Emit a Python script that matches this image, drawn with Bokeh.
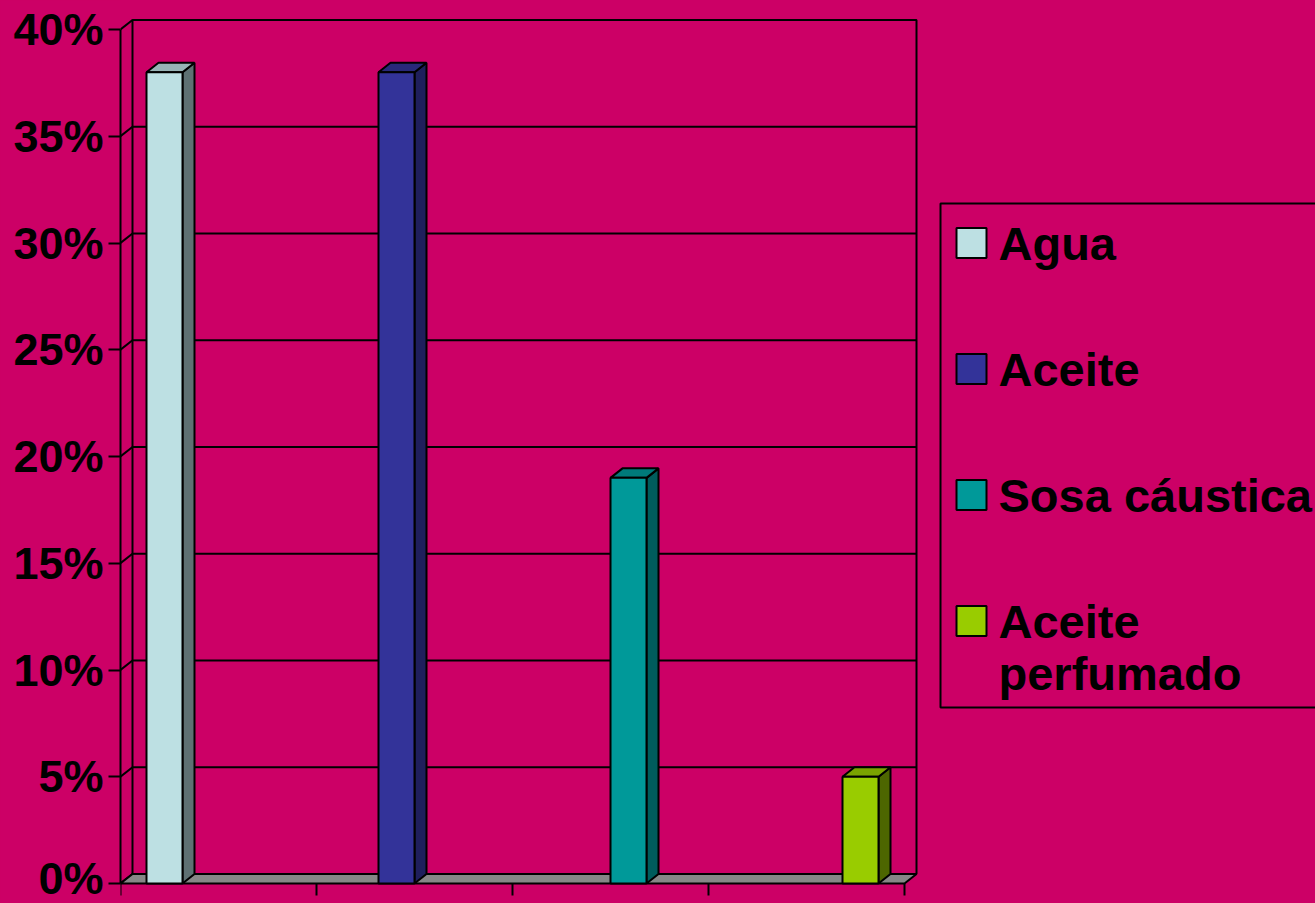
from bokeh.plotting import figure
from bokeh.models import Range1d, FixedTicker, NumeralTickFormatter, ColumnDataSource
from bokeh.embed import file_html
from bokeh.resources import INLINE
from bokeh.core.properties import value

# ---------------- data ----------------
categories = ["Agua", "Aceite", "Sosa cáustica", "Aceite perfumado"]
values = [0.38, 0.38, 0.19, 0.05]
legend_labels = ["Agua", "Aceite", "Sosa cáustica", "Aceite\nperfumado"]
front_colors = ["#BDE0E3", "#333399", "#009999", "#99CC00"]
top_colors = ["#98B4B6", "#29297A", "#007A7A", "#7AA300"]
side_colors = ["#5E7173", "#1F1F5C", "#005C5C", "#4D6600"]
y_ticks = [0.0, 0.05, 0.10, 0.15, 0.20, 0.25, 0.30, 0.35, 0.40]
x_slot_ticks = [0, 1, 2, 3, 4]

# ---------------- layout constants ----------------
BG = "#CC0066"
W, H = 1315, 903
LEFT = 120             # frame left (px)
ZERO_Y = 883           # pixel row of y = 0
PX_Y = 2135.0          # pixels per unit of y
SLOT = 196.0           # pixels per x slot
AXIS_W = 4 * SLOT      # front floor width
DX = 12.0              # depth offset (px, x)
DY = 9.5 / PX_Y        # depth offset (y units)
BAR_W = 36.0
BAR_START = 26.0
BAR_STEP = 232.0
YMAX = y_ticks[-1]
LW = 2

p = figure(width=W, height=H,
           x_range=Range1d(0, W - LEFT),
           y_range=Range1d(-(H - ZERO_Y) / PX_Y, ZERO_Y / PX_Y),
           x_axis_location=None, y_axis_location="left",
           output_backend="svg", toolbar_location=None, tools="",
           min_border_left=LEFT, min_border_right=0,
           min_border_top=0, min_border_bottom=0)
p.background_fill_color = BG
p.border_fill_color = BG
p.outline_line_color = None
p.xgrid.visible = False
p.ygrid.visible = False

# back wall
p.quad(left=DX, right=AXIS_W + DX, bottom=DY, top=YMAX + DY,
       fill_color=BG, line_color="black", line_width=LW)
# gridlines on back wall
p.segment(x0=[DX] * len(y_ticks), y0=[t + DY for t in y_ticks],
          x1=[AXIS_W + DX] * len(y_ticks), y1=[t + DY for t in y_ticks],
          line_color="black", line_width=LW)
# side wall diagonals
p.segment(x0=[0] * len(y_ticks), y0=y_ticks,
          x1=[DX] * len(y_ticks), y1=[t + DY for t in y_ticks],
          line_color="black", line_width=LW)
# floor
p.patch(x=[0, AXIS_W, AXIS_W + DX, DX], y=[0, 0, DY, DY],
        fill_color="#878787", line_color="black", line_width=LW)
# x tick marks
p.segment(x0=[t * SLOT for t in x_slot_ticks], y0=[0] * len(x_slot_ticks),
          x1=[t * SLOT for t in x_slot_ticks], y1=[-12 / PX_Y] * len(x_slot_ticks),
          line_color="black", line_width=LW)

# 3D bars
side_xs, side_ys, top_xs, top_ys = [], [], [], []
lefts, rights = [], []
for i, v in enumerate(values):
    x0 = BAR_START + i * BAR_STEP
    x1 = x0 + BAR_W
    lefts.append(x0)
    rights.append(x1)
    side_xs.append([x1, x1 + DX, x1 + DX, x1])
    side_ys.append([0, DY, v + DY, v])
    top_xs.append([x0, x0 + DX, x1 + DX, x1])
    top_ys.append([v, v + DY, v + DY, v])

p.patches(xs="xs", ys="ys", fill_color="c", line_color="black", line_width=LW,
          source=ColumnDataSource(dict(xs=side_xs, ys=side_ys, c=side_colors)))
p.patches(xs="xs", ys="ys", fill_color="c", line_color="black", line_width=LW,
          source=ColumnDataSource(dict(xs=top_xs, ys=top_ys, c=top_colors)))
p.quad(left="l", right="r", bottom=0, top="v", fill_color="c", line_color="black",
       line_width=LW,
       source=ColumnDataSource(dict(l=lefts, r=rights, v=values, c=front_colors)))

# y axis
ax = p.yaxis[0]
ax.ticker = FixedTicker(ticks=y_ticks)
ax.formatter = NumeralTickFormatter(format="0%")
ax.bounds = (0, YMAX)
ax.axis_line_color = "black"
ax.axis_line_width = LW
ax.major_tick_line_color = "black"
ax.major_tick_line_width = LW
ax.major_tick_out = 12
ax.major_tick_in = 0
ax.minor_tick_line_color = None
ax.major_label_standoff = 5
ax.major_label_text_font = "Liberation Sans"
ax.major_label_text_font_style = "bold"
ax.major_label_text_font_size = "45px"
ax.major_label_text_color = "black"

# legend (drawn manually, pixel layout converted to data units)
def ypix(yp):
    return (ZERO_Y - yp) / PX_Y

def xpix(xp):
    return xp - LEFT

p.quad(left=xpix(940), right=xpix(1340), bottom=ypix(707), top=ypix(203),
       fill_color=None, line_color="black", line_width=LW)
sw_l, sw_r, sw_b, sw_t = [], [], [], []
tx, ty, tt = [], [], []
for i, lab in enumerate(legend_labels):
    c = 242.5 + 126 * i
    sw_l.append(xpix(956))
    sw_r.append(xpix(986))
    sw_b.append(ypix(c + 15))
    sw_t.append(ypix(c - 15))
    for j, line in enumerate(lab.split("\n")):
        tx.append(xpix(998))
        ty.append(ypix(243 + 126 * i + 52 * j))
        tt.append(line)
p.quad(left=sw_l, right=sw_r, bottom=sw_b, top=sw_t, fill_color=front_colors,
       line_color="black", line_width=LW)
p.text(x=tx, y=ty, text=tt, text_font=value("Liberation Sans"),
       text_font_style="bold", text_font_size="47px", text_color="black",
       text_align="left", text_baseline="alphabetic")

html = file_html(p, INLINE)
html = html.replace("</head>", "<style>body{background-color:#CC0066;}</style></head>", 1)
open("out.html", "w").write(html)
